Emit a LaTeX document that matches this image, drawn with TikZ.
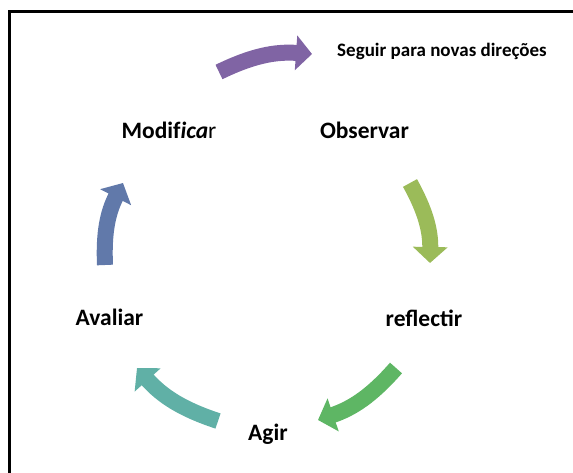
\documentclass[tikz,border=0pt]{standalone}
\usepackage{fontspec}
\setmainfont{Carlito}
\usetikzlibrary{arrows.meta}
\definecolor{cpurple}{RGB}{128,100,164}
\definecolor{cyellow}{RGB}{155,187,89}
\definecolor{cgreen}{RGB}{94,182,100}
\definecolor{cteal}{RGB}{96,176,166}
\definecolor{cblue}{RGB}{97,121,170}
\begin{document}
\begin{tikzpicture}[x=1pt,y=-1pt,
    lbl/.style={anchor=base,inner sep=0,font=\bfseries\fontsize{23.5}{28}\selectfont},
    cyc/.style={line width=16,-{Triangle[length=16pt,width=34pt]},bend left=15}]
  \useasboundingbox (0,0) rectangle (573,473);
  \draw[line width=3] (9.5,473) -- (9.5,12) -- (573,12);
  \node[anchor=base,inner sep=0,font=\bfseries\fontsize{19}{23}\selectfont] (seg) at (442,57) {Seguir para novas direções};
  \node[lbl] (mod) at (169,139) {Modif\textit{ica}\textmd{r}};
  \node[lbl] (obs) at (364.5,139) {Observar};
  \node[lbl] (ref) at (424,326) {reflectir};
  \node[lbl] (agi) at (268,440) {Agir};
  \node[lbl] (ava) at (109.5,325) {Avaliar};
  \coordinate (p1) at (219,72);  \coordinate (p2) at (312,54);
  \coordinate (o1) at (410,183); \coordinate (o2) at (430,263);
  \coordinate (r1) at (396,368); \coordinate (r2) at (318,420);
  \coordinate (a1) at (218,421); \coordinate (a2) at (137,368);
  \coordinate (v1) at (105,265); \coordinate (v2) at (123,183);
  \draw[cyc,cpurple] (p1) to (p2);
  \draw[cyc,cyellow] (o1) to (o2);
  \draw[cyc,cgreen] (r1) to (r2);
  \draw[cyc,cteal] (a1) to (a2);
  \draw[cyc,cblue] (v1) to (v2);
\end{tikzpicture}
\end{document}
